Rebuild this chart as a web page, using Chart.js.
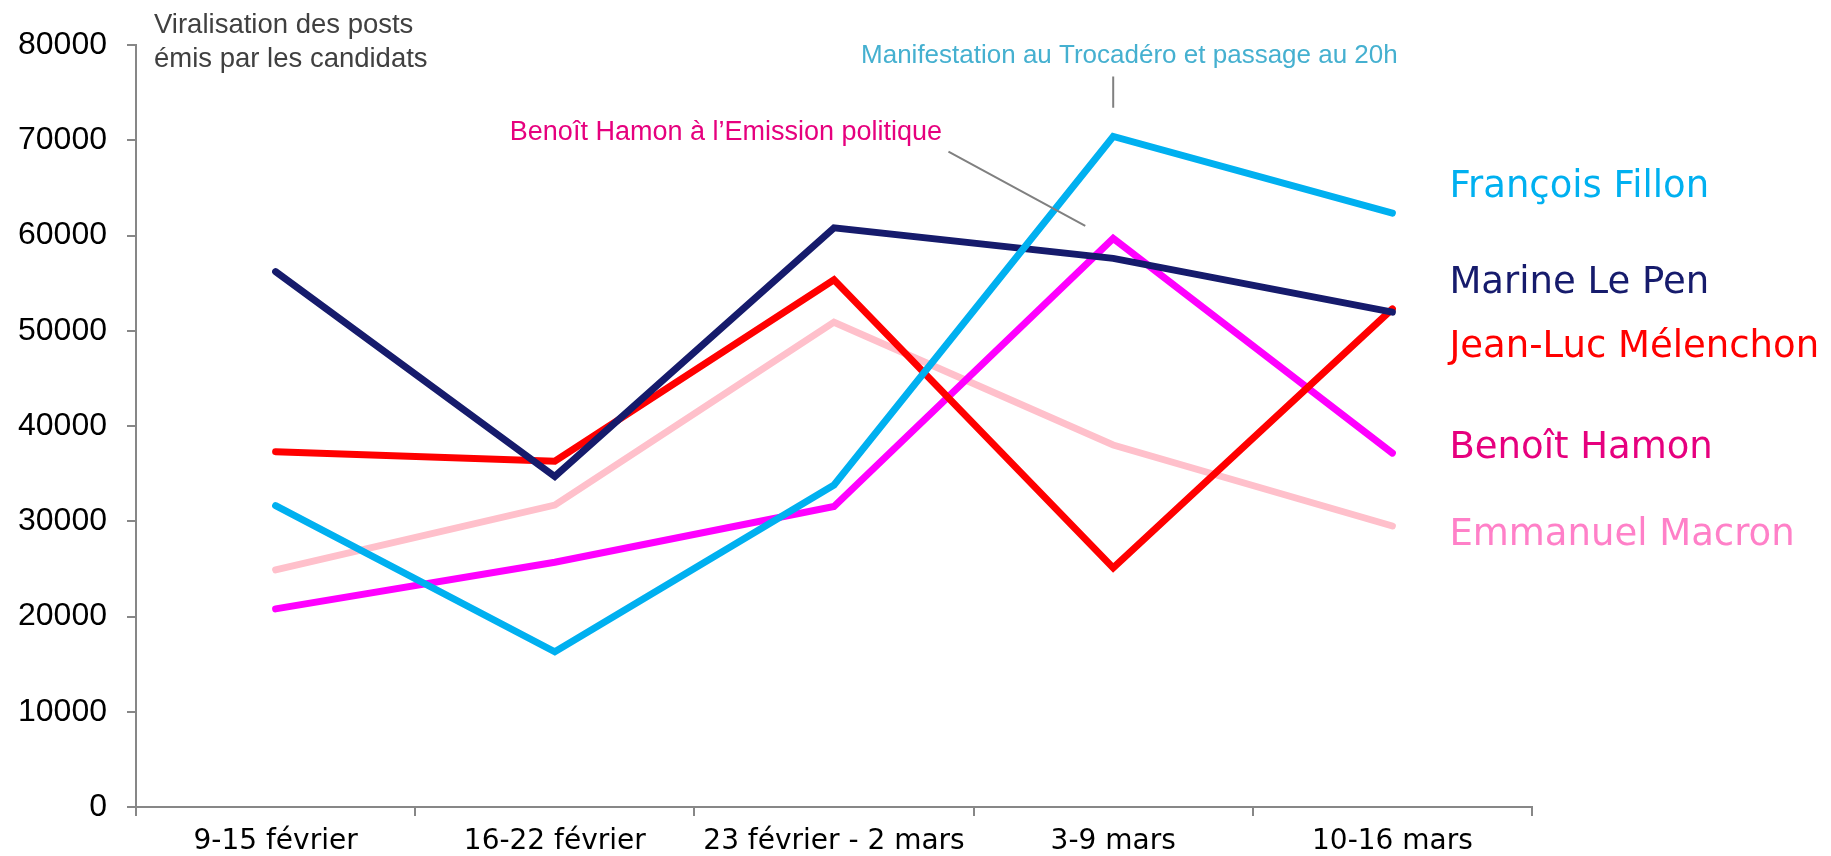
<!DOCTYPE html>
<html>
<head>
<meta charset="utf-8">
<script src="https://cdn.jsdelivr.net/npm/chart.js@4.4.0/dist/chart.umd.min.js"></script>
<style>
  html, body { margin: 0; padding: 0; background: #fff; }
  #wrap { width: 1831px; height: 856px; position: relative; }
</style>
</head>
<body>
<div id="wrap"><canvas id="myChart"></canvas></div>
<script>
// weeks on the x axis
const categories = ['9-15 février', '16-22 février', '23 février - 2 mars', '3-9 mars', '10-16 mars'];

// virality of the posts, one list per candidate
const fillon    = [31650, 16300, 33800, 70400, 62350];
const lePen     = [56200, 34700, 60800, 57600, 51950];
const melenchon = [37300, 36300, 55350, 25100, 52300];
const hamon     = [20800, 25700, 31550, 59700, 37150];
const macron    = [24900, 31700, 50900, 38000, 29500];

const seriesNames  = ['François Fillon', 'Marine Le Pen', 'Jean-Luc Mélenchon', 'Benoît Hamon', 'Emmanuel Macron'];
const lineColors   = ['#00B0F0', '#161B6C', '#FF0000', '#FF00FF', '#FFC0CB'];
const labelColors  = ['#00B0F0', '#161B6C', '#FF0000', '#E6007E', '#FF80C8'];
// where the names sit on the right (y value of the text middle)
const labelValues  = [65100, 55000, 48300, 37700, 28500];

const yTickLabels = ['0', '10000', '20000', '30000', '40000', '50000', '60000', '70000', '80000'];

const ctxEl = document.getElementById('myChart');

// names on the right, annotations and title
const extras = {
  id: 'extras',
  afterDatasetsDraw(chart) {
    const ctx = chart.ctx;
    const x = chart.scales.x, y = chart.scales.y;
    ctx.save();

    // series names
    ctx.font = '37px "DejaVu Sans"';
    ctx.textAlign = 'left';
    ctx.textBaseline = 'middle';
    seriesNames.forEach((name, i) => {
      ctx.fillStyle = labelColors[i];
      ctx.fillText(name, x.getPixelForValue(4) + 57, y.getPixelForValue(labelValues[i]));
    });

    // title in the top-left corner
    ctx.font = '27.5px "Liberation Sans"';
    ctx.fillStyle = '#404040';
    ctx.textBaseline = 'alphabetic';
    ctx.fillText('Viralisation des posts', chart.chartArea.left + 18, 33);
    ctx.fillText('émis par les candidats', chart.chartArea.left + 18, 67);

    // annotations
    ctx.strokeStyle = '#808080';
    ctx.lineWidth = 2;
    ctx.beginPath();
    ctx.moveTo(x.getPixelForValue(3), y.getPixelForValue(76700));
    ctx.lineTo(x.getPixelForValue(3), y.getPixelForValue(73400));
    ctx.moveTo(x.getPixelForValue(2.41), y.getPixelForValue(68800));
    ctx.lineTo(x.getPixelForValue(2.9), y.getPixelForValue(61000));
    ctx.stroke();

    ctx.font = '26px "Liberation Sans"';
    ctx.fillStyle = '#45B0D0';
    ctx.textAlign = 'center';
    ctx.fillText('Manifestation au Trocadéro et passage au 20h', x.getPixelForValue(3.058), y.getPixelForValue(78100));
    ctx.font = '27px "Liberation Sans"';
    ctx.fillStyle = '#E6007E';
    ctx.textAlign = 'right';
    ctx.fillText('Benoît Hamon à l’Emission politique', x.getPixelForValue(2.387), y.getPixelForValue(70000));
    ctx.restore();
  }
};

const allSeries = [fillon, lePen, melenchon, hamon, macron];

new Chart(ctxEl, {
  type: 'line',
  data: {
    labels: categories,
    datasets: allSeries.map((d, i) => ({
      label: seriesNames[i],
      data: d,
      borderColor: lineColors[i],
      backgroundColor: lineColors[i],
      borderWidth: 7,
      borderCapStyle: 'round',
      borderJoinStyle: 'miter',
      pointRadius: 0,
      tension: 0,
      fill: false
    }))
  },
  options: {
    responsive: true,
    maintainAspectRatio: false,
    animation: false,
    layout: { padding: { top: 45, right: 299, left: 0, bottom: 0 } },
    plugins: {
      legend: { display: false },
      tooltip: { enabled: false }
    },
    scales: {
      x: {
        offset: true,
        grid: { offset: true, drawOnChartArea: false, color: '#878787', tickLength: 9, lineWidth: 2 },
        border: { color: '#878787', width: 2 },
        ticks: { color: '#000', font: { family: 'DejaVu Sans', size: 28 }, padding: 9, maxRotation: 0, autoSkip: false },
        afterFit(scale) { scale.height = 49; }
      },
      y: {
        min: 0,
        max: 80000,
        grid: { drawOnChartArea: false, color: '#878787', tickLength: 9, lineWidth: 2 },
        border: { color: '#878787', width: 2 },
        ticks: {
          stepSize: 10000,
          color: '#000',
          padding: 20,
          font: { family: 'Liberation Sans', size: 32 },
          callback: (v, i) => yTickLabels[i]
        },
        afterFit(scale) { scale.width = 136; }
      }
    }
  },
  plugins: [extras]
});
</script>
</body>
</html>
